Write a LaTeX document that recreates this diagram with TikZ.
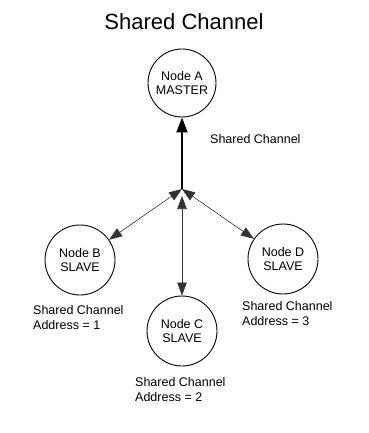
\documentclass[tikz,border=0pt]{standalone}
\usepackage{fontspec}
\setmainfont{Liberation Sans}
\usetikzlibrary{arrows.meta}
\begin{document}
\begin{tikzpicture}[x=1pt,y=-1pt,
  station/.style={draw=black,line width=0.9pt,circle,minimum size=70pt,inner sep=0pt,align=center,font=\fontsize{12.5}{14.5}\selectfont},
  lbl/.style={anchor=north west,align=left,inner sep=0pt,font=\fontsize{12.5}{15.5}\selectfont},
  link/.style={line width=0.6pt,draw=black!80,{Triangle[length=13pt,width=9.5pt]}-{Triangle[length=13pt,width=9.5pt]}},
  mainlink/.style={line width=2pt,-{Triangle[length=15pt,width=11pt]}}]
\useasboundingbox (0,0) rectangle (368,433);
\node[font=\fontsize{22}{26}\selectfont] (title) at (184,22) {Shared Channel};
\node[station,minimum size=68pt] (A) at (182,83) {Node A\\MASTER};
\node[station] (B) at (80,260) {Node B\\SLAVE};
\node[station] (C) at (182,331) {Node C\\SLAVE};
\node[station] (D) at (283,259) {Node D\\SLAVE};
\coordinate (hub) at (182,189);
\coordinate (hubc) at (182,196);
\draw[mainlink] (hub) -- (A);
\draw[link] (hub) -- (B);
\draw[link] (hub) -- (D);
\draw[link] (hubc) -- (C);
\node[lbl] (lA) at (210,134) {Shared Channel};
\node[lbl] (lB) at (33,305) {Shared Channel\\Address = 1};
\node[lbl] (lD) at (242,301) {Shared Channel\\Address = 3};
\node[lbl] (lC) at (135,377) {Shared Channel\\Address = 2};
\end{tikzpicture}
\end{document}
